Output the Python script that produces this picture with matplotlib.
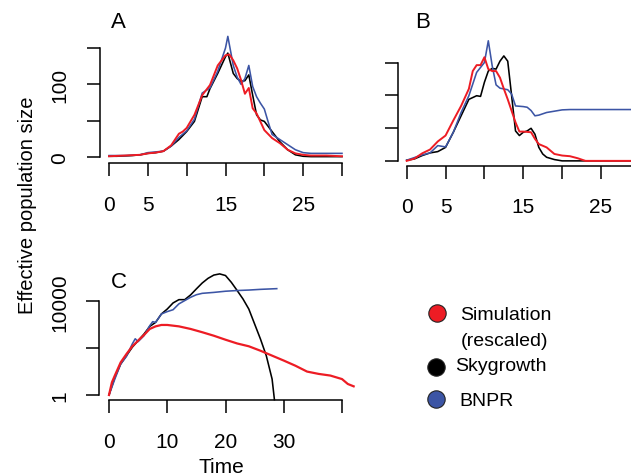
import numpy as np
import matplotlib
matplotlib.use("Agg")
import matplotlib.pyplot as plt
from matplotlib.lines import Line2D

plt.rcParams['font.family'] = ['Liberation Sans', 'DejaVu Sans']

RED = '#ed1c24'
BLACK = '#000000'
BLUE = '#3c55a5'

# panel A
a_sim_t = [0, 2, 4, 5, 6, 7, 8, 9, 9.5, 10, 11, 12, 13, 14, 15, 15.5, 16, 16.5, 17,
           17.5, 18, 18.5, 19, 20, 21, 22, 23, 24, 25, 26, 28, 30]
a_sim = [1, 2, 3, 5, 6, 8, 16, 32, 35, 40, 58, 85, 99, 126, 140, 141, 133, 122, 106,
         87, 95, 67, 60, 37, 26, 19, 10, 5, 3, 2, 2, 1]
a_sky_t = [0, 1, 2, 3, 4, 5, 6, 7, 8, 9, 10, 11, 12, 12.6, 13, 14, 15, 15.3, 16, 16.5,
           17, 17.5, 18, 18.5, 19, 19.5, 20, 21, 22, 23, 24, 25, 26, 28, 30]
a_sky = [1, 1, 1.5, 2, 3, 5, 6, 8, 15, 24, 35, 49, 83, 83, 94, 115, 138, 143, 115, 108,
         104, 105, 113, 85, 58, 51, 49, 35, 21, 10, 3, 1, 0.5, 0.5, 0.5]
a_bnpr_t = [0, 2, 4, 5, 7, 8, 9, 10, 11, 12, 13, 14, 15, 15.3, 16, 16.5, 17, 17.5, 18,
            18.5, 19, 19.5, 20, 20.5, 21, 22, 23, 24, 25, 26, 30]
a_bnpr = [2, 2, 3, 6, 8, 15, 27, 36, 52, 88, 95, 118, 150, 166, 126, 110, 100, 108, 126,
          97, 83, 74, 66, 48, 31, 24, 17, 10, 6, 5, 5]

# panel B
b_sim_t = [0, 1, 2, 3, 4, 5, 6, 7, 8, 8.5, 9, 9.5, 10, 10.5, 11, 11.5, 12, 12.5, 13,
           14, 14.5, 15, 16, 16.5, 17, 18, 19, 20, 21, 22, 23, 30]
b_sim = [0.5, 4, 12, 17.7, 30, 39, 62, 84, 110, 137, 146, 146, 158, 140, 137, 137, 127,
         110, 94, 59, 45, 45, 44, 34, 26, 21, 11, 8.6, 7.6, 4.5, 0.5, 0.5]
b_sky_t = [0, 1, 2, 3, 4, 5, 6, 7, 8, 9, 9.5, 10, 10.5, 11, 11.5, 12, 12.5, 13, 13.5,
           14, 14.5, 15, 15.5, 16, 16.5, 17, 17.5, 18, 19, 20, 30]
b_sky = [1.5, 3.5, 8.6, 12.6, 14.6, 21, 44, 69, 94, 99.5, 98.5, 120, 137, 141, 140, 152,
         160, 152, 99.5, 46, 39, 44, 46, 50, 41, 21, 11, 6, 2.5, 0.5, 0.5]
b_bnpr_t = [0, 2, 3, 4, 5, 6, 7, 8, 9, 10, 10.5, 11, 11.5, 12, 13, 13.5, 14, 15, 15.5,
            16, 16.5, 17, 18, 19, 20, 21, 30]
b_bnpr = [1.5, 9.6, 12.6, 23.7, 21.7, 44, 74, 99.5, 135, 150, 183, 145, 116, 111, 108.6,
          102, 84, 83, 82, 77, 69, 70, 74, 76, 78, 78.5, 78.5]

# panel C (log10 of effective size)
c_sim_t = [0, 0.5, 1, 2, 3, 4, 5, 6, 7, 8, 9, 10, 12, 14, 16, 18, 20, 22, 24, 26, 28,
           30, 32, 34, 36, 38, 40, 41, 42]
c_sim = [0, 0.54, 0.83, 1.39, 1.75, 2.08, 2.32, 2.56, 2.82, 2.93, 2.99, 2.99, 2.93,
         2.82, 2.68, 2.53, 2.36, 2.2, 2.08, 1.89, 1.68, 1.47, 1.25, 1.0, 0.9, 0.83,
         0.68, 0.47, 0.37]
c_sky_t = [0, 1, 2, 3, 4, 5, 6, 7, 8, 9, 10, 11, 12, 13, 14, 15, 16, 17, 18, 19, 20,
           21, 22, 23, 24, 25, 26, 27, 28, 28.4]
c_sky = [0, 0.75, 1.32, 1.68, 2.04, 2.32, 2.6, 2.93, 3.1, 3.46, 3.67, 3.93, 4.07, 4.07,
         4.27, 4.53, 4.78, 4.98, 5.12, 5.17, 5.1, 4.81, 4.46, 4.1, 3.67, 3.03, 2.39,
         1.68, 0.68, -0.2]
c_bnpr_t = [0, 1, 2, 3, 4, 4.5, 5, 6, 7, 7.5, 8, 9, 10, 11, 12, 13, 14, 15, 16, 18, 20,
            22, 24, 26, 28.8]
c_bnpr = [0, 0.68, 1.32, 1.65, 2.18, 2.4, 2.28, 2.53, 2.96, 3.13, 3.1, 3.46, 3.56,
          3.64, 3.89, 4.03, 4.17, 4.28, 4.34, 4.38, 4.43, 4.46, 4.48, 4.51, 4.54]

legend_labels = ['Simulation', 'Skygrowth', 'BNPR']
legend_colors = [RED, BLACK, BLUE]

W, H = 631, 477
fig = plt.figure(figsize=(W / 100, H / 100), dpi=100)


def place(box, xref, yref, ylog=False):
    # box in pixels (left, top, right, bottom); refs map pixel -> data value
    l, t, r, b = box
    ax = fig.add_axes([l / W, 1 - b / H, (r - l) / W, (b - t) / H])
    (p0, v0), (p1, v1) = xref
    s = (v1 - v0) / (p1 - p0)
    ax.set_xlim(v0 + (l - p0) * s, v0 + (r - p0) * s)
    (p0, v0), (p1, v1) = yref
    s = (v1 - v0) / (p0 - p1)
    lo, hi = v0 + (p0 - b) * s, v0 + (p0 - t) * s
    if ylog:
        ax.set_yscale('log')
        ax.set_ylim(10 ** lo, 10 ** hi)
    else:
        ax.set_ylim(lo, hi)
    for side in ['top', 'right']:
        ax.spines[side].set_visible(False)
    for side in ['left', 'bottom']:
        ax.spines[side].set_linewidth(1.1)
    ax.tick_params(direction='out', length=9.4, width=1.1, labelsize=15, pad=13.5)
    ax.tick_params(axis='y', labelrotation=90, pad=12.5)
    ax.minorticks_off()
    return ax


def style_y(ax):
    for tk in ax.yaxis.get_major_ticks():
        tk.label1.set_verticalalignment('center')


ax_a = place((100, 30, 350, 164), ((109, 0), (342, 30)), ((158, 0), (49, 150)))
ax_a.plot(a_sky_t, a_sky, color=BLACK, lw=1.15)
ax_a.plot(a_bnpr_t, a_bnpr, color=BLUE, lw=1.15)
ax_a.plot(a_sim_t, a_sim, color=RED, lw=1.4)
ax_a.set_xticks([0, 5, 10, 15, 20, 25, 30], ['0', '5', '', '15', '', '25', ''])
ax_a.set_yticks([0, 50, 100, 150], ['0', '', '100', ''])
ax_a.spines['bottom'].set_bounds(0, 30)
ax_a.spines['left'].set_bounds(0, 150)
style_y(ax_a)

ax_b = place((397.7, 30, 645, 166.5), ((406.7, 0), (601, 25)), ((162.2, 0), (63.5, 150)))
ax_b.plot(b_sky_t, b_sky, color=BLACK, lw=1.15)
ax_b.plot(b_bnpr_t, b_bnpr, color=BLUE, lw=1.15)
ax_b.plot(b_sim_t, b_sim, color=RED, lw=1.4)
ax_b.set_xticks([0, 5, 10, 15, 20, 25, 30], ['0', '5', '', '15', '', '25', ''])
ax_b.set_yticks([0, 50, 100, 150], ['', '', '', ''])
ax_b.spines['bottom'].set_bounds(0, 30)
ax_b.spines['left'].set_bounds(0, 150)

ax_c = place((99.3, 262, 360, 400.7), ((109, 0), (342, 40)), ((396, 0), (302.3, 4)), ylog=True)
ax_c.plot(c_sky_t, 10 ** np.array(c_sky), color=BLACK, lw=1.15, clip_on=False)
ax_c.plot(c_bnpr_t, 10 ** np.array(c_bnpr), color=BLUE, lw=1.15)
ax_c.plot(c_sim_t, 10 ** np.array(c_sim), color=RED, lw=1.6)
ax_c.set_xticks([0, 10, 20, 30, 40], ['0', '10', '20', '30', ''])
ax_c.set_yticks([1, 100, 10000], ['1', '', '10000'])
ax_c.minorticks_off()
ax_c.spines['bottom'].set_bounds(0, 40)
ax_c.spines['left'].set_bounds(1, 10000)
style_y(ax_c)

# panel letters
for txt, x, y in [('A', 111, 28.3), ('B', 415, 28), ('C', 111, 287.5)]:
    fig.text(x / W, 1 - y / H, txt, fontsize=16, ha='left', va='baseline')

fig.text(33.3 / W, 1 - 205 / H, 'Effective population size', fontsize=14.5,
         rotation=90, rotation_mode='anchor', ha='center', va='baseline')
fig.text(221 / W, 1 - 473.5 / H, 'Time', fontsize=15, ha='center', va='baseline')

# legend
marker_pos = [(437, 314.3), (435.7, 368.3), (435.7, 400)]
for (mx, my), col in zip(marker_pos, legend_colors):
    fig.add_artist(Line2D([mx / W], [1 - my / H], transform=fig.transFigure, marker='o',
                          ms=12.5, mfc=col, mec='#222222', mew=0.8, linestyle='none'))
fig.text(460 / W, 1 - 316 / H, legend_labels[0], fontsize=14, va='center')
fig.text(461 / W, 1 - 341.7 / H, '(rescaled)', fontsize=14, va='center')
fig.text(455 / W, 1 - 367 / H, legend_labels[1], fontsize=14, va='center')
fig.text(459.3 / W, 1 - 401.7 / H, legend_labels[2], fontsize=14, va='center')

fig.savefig('out.png', dpi=100)
